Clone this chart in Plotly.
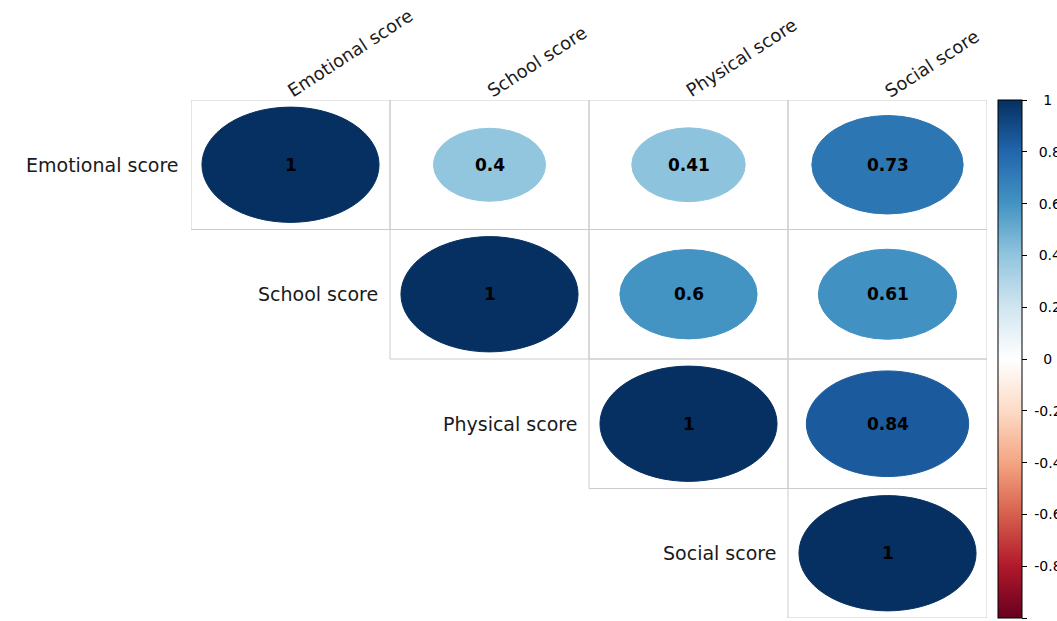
import plotly.graph_objects as go
from plotly.colors import sample_colorscale

# ---- data ----
labels = ["Emotional score", "School score", "Physical score", "Social score"]
corr = [
    [1.00, 0.40, 0.41, 0.73],
    [0.40, 1.00, 0.60, 0.61],
    [0.41, 0.60, 1.00, 0.84],
    [0.73, 0.61, 0.84, 1.00],
]
cbar_vals = [1, 0.8, 0.6, 0.4, 0.2, 0, -0.2, -0.4, -0.6, -0.8, -1]
cbar_text = ["1", "0.8", "0.6", "0.4", "0.2", "0",
             "-0.2", "-0.4", "-0.6", "-0.8", "-1"]

# corrplot COL2('RdBu')
rdbu = ["#67001F", "#B2182B", "#D6604D", "#F4A582", "#FDDBC7", "#FFFFFF",
        "#D1E5F0", "#92C5DE", "#4393C3", "#2166AC", "#053061"]
colorscale = [[k / 10, c] for k, c in enumerate(rdbu)]

n = len(labels)
W, H = 1057, 621
ml, mr, mt, mb = 191, 70, 100, 3

NB = "\u00a0"
pad = {1: 3, 2: 2, 3: 2, 4: 1}  # rough centring of colour-bar labels by length
cbar_disp = [NB * pad.get(len(t), 0) + t for t in cbar_text]

fig = go.Figure()

shapes = []
annotations = []
LABEL_FONT = dict(family="DejaVu Sans", size=19, color="#1a1a1a")

for i in range(n):
    for j in range(n):
        if j < i:
            continue
        x, y = j + 1, i + 1
        # cell border
        shapes.append(dict(type="rect", xref="x", yref="y",
                           x0=x - 0.5, x1=x + 0.5, y0=y - 0.5, y1=y + 0.5,
                           line=dict(color="#cccccc", width=1),
                           fillcolor="rgba(0,0,0,0)", layer="below"))
        v = corr[i][j]
        r = 0.445 * abs(v) ** 0.5
        col = sample_colorscale(colorscale, [(v + 1) / 2])[0]
        shapes.append(dict(type="circle", xref="x", yref="y",
                           x0=x - r, x1=x + r, y0=y - r, y1=y + r,
                           line=dict(color=col, width=1), fillcolor=col,
                           layer="above"))
        annotations.append(dict(x=x, y=y, xref="x", yref="y", text=f"{v:g}",
                                showarrow=False,
                                font=dict(family="DejaVu Sans", size=17,
                                          color="black", weight="bold")))

for i, lab in enumerate(labels):
    # row label at the left of the diagonal cell
    annotations.append(dict(x=i + 0.5, y=i + 1, xref="x", yref="y", text=lab,
                            showarrow=False, xanchor="right", yanchor="middle",
                            xshift=-10, font=LABEL_FONT))
    # column label on top, rotated
    annotations.append(dict(x=i + 1, y=1, xref="x", yref="paper", text=lab,
                            showarrow=False, xanchor="left", yanchor="bottom",
                            xshift=-9, yshift=-4, textangle=-33,
                            font=dict(LABEL_FONT, size=18)))

# invisible trace carrying the colour bar
fig.add_trace(go.Scatter(
    x=[1], y=[1], mode="markers",
    marker=dict(size=1, opacity=0, color=[1], cmin=-1, cmax=1,
                colorscale=colorscale, showscale=True,
                colorbar=dict(x=(998 - ml) / (W - ml - mr), xanchor="left",
                              xpad=0, ypad=0, y=0.5, yanchor="middle",
                              len=518, lenmode="pixels", thickness=24,
                              outlinewidth=1, outlinecolor="black",
                              ticks="outside", ticklen=5, tickcolor="black",
                              tickvals=cbar_vals, ticktext=cbar_disp,
                              tickfont=dict(family="DejaVu Sans", size=14,
                                            color="black"))),
    hoverinfo="skip", showlegend=False))

fig.update_layout(
    width=W, height=H,
    margin=dict(l=ml, r=mr, t=mt, b=mb, autoexpand=False),
    paper_bgcolor="white", plot_bgcolor="white",
    xaxis=dict(range=[0.5, n + 0.5], visible=False, fixedrange=True),
    yaxis=dict(range=[n + 0.5, 0.5], visible=False, fixedrange=True),
    shapes=shapes, annotations=annotations, showlegend=False,
)

fig.write_html(
    "out.html",
    config={"displayModeBar": False},
    post_script="document.body.style.margin='0';document.body.style.overflow='hidden';",
)
